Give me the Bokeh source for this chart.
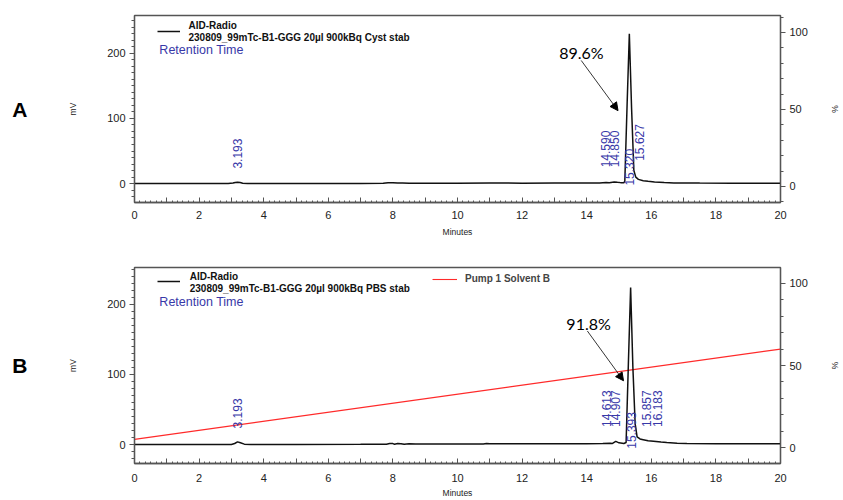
import numpy as np
from bokeh.plotting import figure
from bokeh.layouts import column
from bokeh.models import (Range1d, LinearAxis, FixedTicker, Label, Arrow, NormalHead,
                          Legend, LegendItem, ColumnDataSource)
from bokeh.core.properties import value
from bokeh.embed import file_html
from bokeh.resources import INLINE

# ---------------- data ----------------
# Panel A: Cyst stability, radio trace (mV)
a_time = [0.0, 1.0, 2.0, 2.9, 3.05, 3.12, 3.19, 3.27, 3.35, 3.5,
          4.0, 5.0, 6.0, 7.0, 7.7, 7.85, 8.0, 8.15, 8.3, 8.5,
          9.0, 10.0, 11.0, 12.0, 13.0, 14.0, 14.4, 14.6, 14.7, 14.85,
          14.95, 15.05, 15.15, 15.18, 15.25, 15.32, 15.39, 15.46, 15.52, 15.6,
          15.75, 15.9, 16.1, 16.4, 16.7, 17.5, 18.5, 20.0]
a_mv = [0.0, 0.0, 0.0, 0.1, 0.8, 1.8, 2.2, 1.6, 0.6, 0.3,
        0.2, 0.2, 0.2, 0.3, 0.4, 1.2, 1.3, 0.9, 1.1, 0.7,
        0.6, 0.6, 0.8, 0.7, 0.8, 0.9, 1.1, 1.8, 1.4, 2.6,
        2.0, 1.5, 1.2, 4.0, 120, 230, 115, 20, 10, 6.5,
        4.5, 3.5, 2.5, 1.6, 1.1, 0.8, 0.7, 0.7]
a_peaks = [3.193, 14.590, 14.850, 15.320, 15.627]
a_purity = 89.6
a_sample = "230809_99mTc-B1-GGG 20µl 900kBq Cyst stab"

# Panel B: PBS stability, radio trace (mV)
b_time = [0.0, 1.0, 2.0, 3.0, 3.1, 3.19, 3.28, 3.4, 3.6, 5.0,
          7.0, 7.8, 7.9, 8.0, 8.05, 8.15, 8.25, 8.35, 8.5, 8.7,
          9.0, 10.0, 10.8, 10.9, 11.0, 11.5, 12.0, 13.0, 14.0, 14.5,
          14.73, 14.8, 14.9, 15.0, 15.15, 15.22, 15.29, 15.36, 15.43, 15.50,
          15.56, 15.65, 15.75, 15.9, 16.07, 16.3, 16.48, 16.8, 17.1, 18.0, 20.0]
b_mv = [0.0, 0.0, 0.0, 0.2, 1.5, 3.8, 2.5, 0.6, 0.2, 0.2,
        0.3, 0.6, 1.6, 1.4, 0.5, 1.5, 1.3, 0.4, 1.2, 0.8,
        0.8, 0.9, 0.9, 1.6, 1.0, 1.0, 1.1, 1.1, 1.2, 1.4,
        2.0, 1.6, 4.5, 2.5, 1.5, 3.0, 115, 224, 110, 30,
        11, 8, 7, 5.5, 4.7, 3.5, 2.8, 1.8, 1.4, 1.3, 1.3]
b_peaks = [3.193, 14.613, 14.907, 15.393, 15.857, 16.183]
b_purity = 91.8
b_sample = "230809_99mTc-B1-GGG 20µl 900kBq PBS stab"

# Pump 1 solvent B gradient (%)
solvent_time = [0.0, 20.0]
solvent_b_pct = [5.0, 60.0]

x_major = list(range(0, 21))
x_labels_hidden = list(range(1, 20, 2))
mv_ticks = [0, 100, 200]
pct_ticks = [0, 50, 100]

FONT = "Liberation Sans"
AXC = "#555555"
BLUE = "#3838a8"


def style_axis(ax):
    ax.axis_line_color = AXC
    ax.axis_line_width = 1.3
    ax.major_tick_line_color = AXC
    ax.minor_tick_line_color = AXC
    ax.major_label_text_font = FONT
    ax.major_label_text_font_size = "11px"
    ax.major_label_text_color = "#222222"
    ax.axis_label_text_font = FONT
    ax.axis_label_text_font_style = "normal"
    ax.axis_label_text_font_size = "8.5px"
    ax.axis_label_text_color = "#222222"


def make_panel(cfg, times, mv, peaks, label_y, purity, sample, letter, solvent=False):
    p = figure(width=843, height=cfg["h"], output_backend="svg", toolbar_location=None,
               x_range=Range1d(0, 20), y_range=Range1d(*cfg["mv"]),
               min_border_left=cfg["left"], min_border_right=cfg["right"],
               min_border_top=cfg["top"], min_border_bottom=cfg["bottom"])
    p.xgrid.visible = False
    p.ygrid.visible = False
    p.outline_line_color = AXC
    p.outline_line_width = 1.3
    p.extra_y_ranges = {"pct": Range1d(*cfg["pct"])}

    # x axis
    xa = p.below[0]
    style_axis(xa)
    xa.ticker = FixedTicker(ticks=x_major, minor_ticks=[i / 6 for i in range(0, 121)])
    xa.major_label_overrides = {t: "" for t in x_labels_hidden}
    xa.major_tick_in = 5
    xa.major_tick_out = 0
    xa.minor_tick_in = 2
    xa.minor_tick_out = 0
    xa.major_label_standoff = cfg["xstand"]
    xa.axis_label = "Minutes"
    xa.axis_label_standoff = cfg["minstand"]

    # left axis
    ya = p.left[0]
    style_axis(ya)
    ya.ticker = FixedTicker(ticks=mv_ticks, minor_ticks=list(range(-30, 261, 10)))
    ya.major_tick_out = 5
    ya.major_tick_in = 0
    ya.minor_tick_out = 3
    ya.minor_tick_in = 0
    ya.major_label_standoff = 4
    ya.axis_label = "mV"
    ya.axis_label_standoff = 26

    # panel letter, carried by a bare outer axis
    la = LinearAxis(ticker=FixedTicker(ticks=[]), axis_line_color=None,
                    major_tick_line_color=None, minor_tick_line_color=None,
                    major_label_text_font_size="0px",
                    axis_label=letter, axis_label_orientation="horizontal",
                    axis_label_standoff=cfg["letter_stand"],
                    axis_label_text_font=FONT, axis_label_text_font_size="21px",
                    axis_label_text_font_style="bold", axis_label_text_color="#000000")
    p.add_layout(la, "left")

    # right axis
    ra = LinearAxis(y_range_name="pct")
    style_axis(ra)
    ra.ticker = FixedTicker(ticks=pct_ticks, minor_ticks=list(range(-10, 111, 10)))
    ra.major_tick_out = 5
    ra.major_tick_in = 0
    ra.minor_tick_out = 3
    ra.minor_tick_in = 0
    ra.major_label_standoff = 4
    ra.axis_label = "%"
    ra.axis_label_standoff = 19
    p.add_layout(ra, "right")

    if solvent:
        sr = p.line(solvent_time, solvent_b_pct, y_range_name="pct",
                    line_color="#ff2a2a", line_width=1.1)
    tr = p.line(times, mv, line_color="#111111", line_width=1.5)

    # peak labels
    src = ColumnDataSource(dict(x=peaks, y=label_y, text=[f"{t:.3f}" for t in peaks]))
    p.text(x="x", y="y", text="text", source=src, angle=np.pi / 2,
           text_align="left", text_baseline="middle",
           text_font=value(FONT), text_font_size=value("12px"), text_color=BLUE)

    # legend swatch(es)
    leg = Legend(items=[LegendItem(label=" ", renderers=[tr])],
                 location=cfg["leg_loc"], border_line_color=None,
                 background_fill_alpha=0, padding=0, spacing=0, margin=0,
                 glyph_width=23, glyph_height=10, label_standoff=0, label_height=10,
                 label_text_font=FONT, label_text_font_size="10px")
    p.add_layout(leg)
    if solvent:
        leg2 = Legend(items=[LegendItem(label="Pump 1 Solvent B", renderers=[sr])],
                      location=cfg["leg2_loc"], border_line_color=None,
                      background_fill_alpha=0, padding=0, spacing=0, margin=0,
                      glyph_width=25, glyph_height=10, label_standoff=8, label_height=10,
                      label_text_font=FONT, label_text_font_size="10px",
                      label_text_font_style="bold", label_text_baseline="middle")
        p.add_layout(leg2)

    p.add_layout(Label(x=cfg["name_xy"][0], y=cfg["name_xy"][1], text="AID-Radio",
                       text_font=FONT, text_font_size="10px", text_font_style="bold",
                       text_baseline="middle", text_color="#111111"))
    p.add_layout(Label(x=cfg["sample_xy"][0], y=cfg["sample_xy"][1], text=sample,
                       text_font=FONT, text_font_size="10px", text_font_style="bold",
                       text_baseline="middle", text_color="#111111"))
    p.add_layout(Label(x=cfg["rt_xy"][0], y=cfg["rt_xy"][1], text="Retention Time",
                       text_font=FONT, text_font_size="12.5px",
                       text_baseline="middle", text_color=BLUE))

    # purity annotation with arrow
    p.add_layout(Label(x=cfg["pur_xy"][0], y=cfg["pur_xy"][1], text=f"{purity}%",
                       text_font="Lato", text_font_size="16px",
                       text_baseline="middle", text_color="#000000"))
    ax0, ay0, ax1, ay1 = cfg["arrow"]
    p.add_layout(Arrow(x_start=ax0, y_start=ay0, x_end=ax1, y_end=ay1,
                       line_width=0.8, line_color="#000000",
                       end=NormalHead(size=8, fill_color="#000000", line_color="#000000")))
    return p


cfg_a = dict(h=249, left=132, right=63, top=15, bottom=47,
             mv=(-29, 258), pct=(-10.4, 111), xstand=8, minstand=5, letter_stand=38,
             leg_loc=(23, 166), name_xy=(1.67, 243), sample_xy=(1.67, 224.6),
             rt_xy=(0.77, 204.6),
             pur_xy=(13.15, 201), arrow=(13.83, 189, 14.97, 112))
cfg_b = dict(h=251, left=134, right=63, top=18, bottom=36,
             mv=(-27, 252.5), pct=(-9.7, 109.7), xstand=10, minstand=3, letter_stand=38,
             leg_loc=(23, 177), leg2_loc=(298, 179),
             name_xy=(1.71, 239.7), sample_xy=(1.71, 222.7), rt_xy=(0.77, 202.8),
             pur_xy=(13.37, 173), arrow=(14.02, 162, 15.14, 91))

pa = make_panel(cfg_a, a_time, a_mv, a_peaks, [23, 25, 25, -3, 35], a_purity, a_sample, "A")
pb = make_panel(cfg_b, b_time, b_mv, b_peaks, [23, 25, 25, -6, 25, 25], b_purity, b_sample, "B",
                solvent=True)

layout = column(pa, pb, spacing=0)
open("out.html", "w").write(file_html(layout, INLINE))
